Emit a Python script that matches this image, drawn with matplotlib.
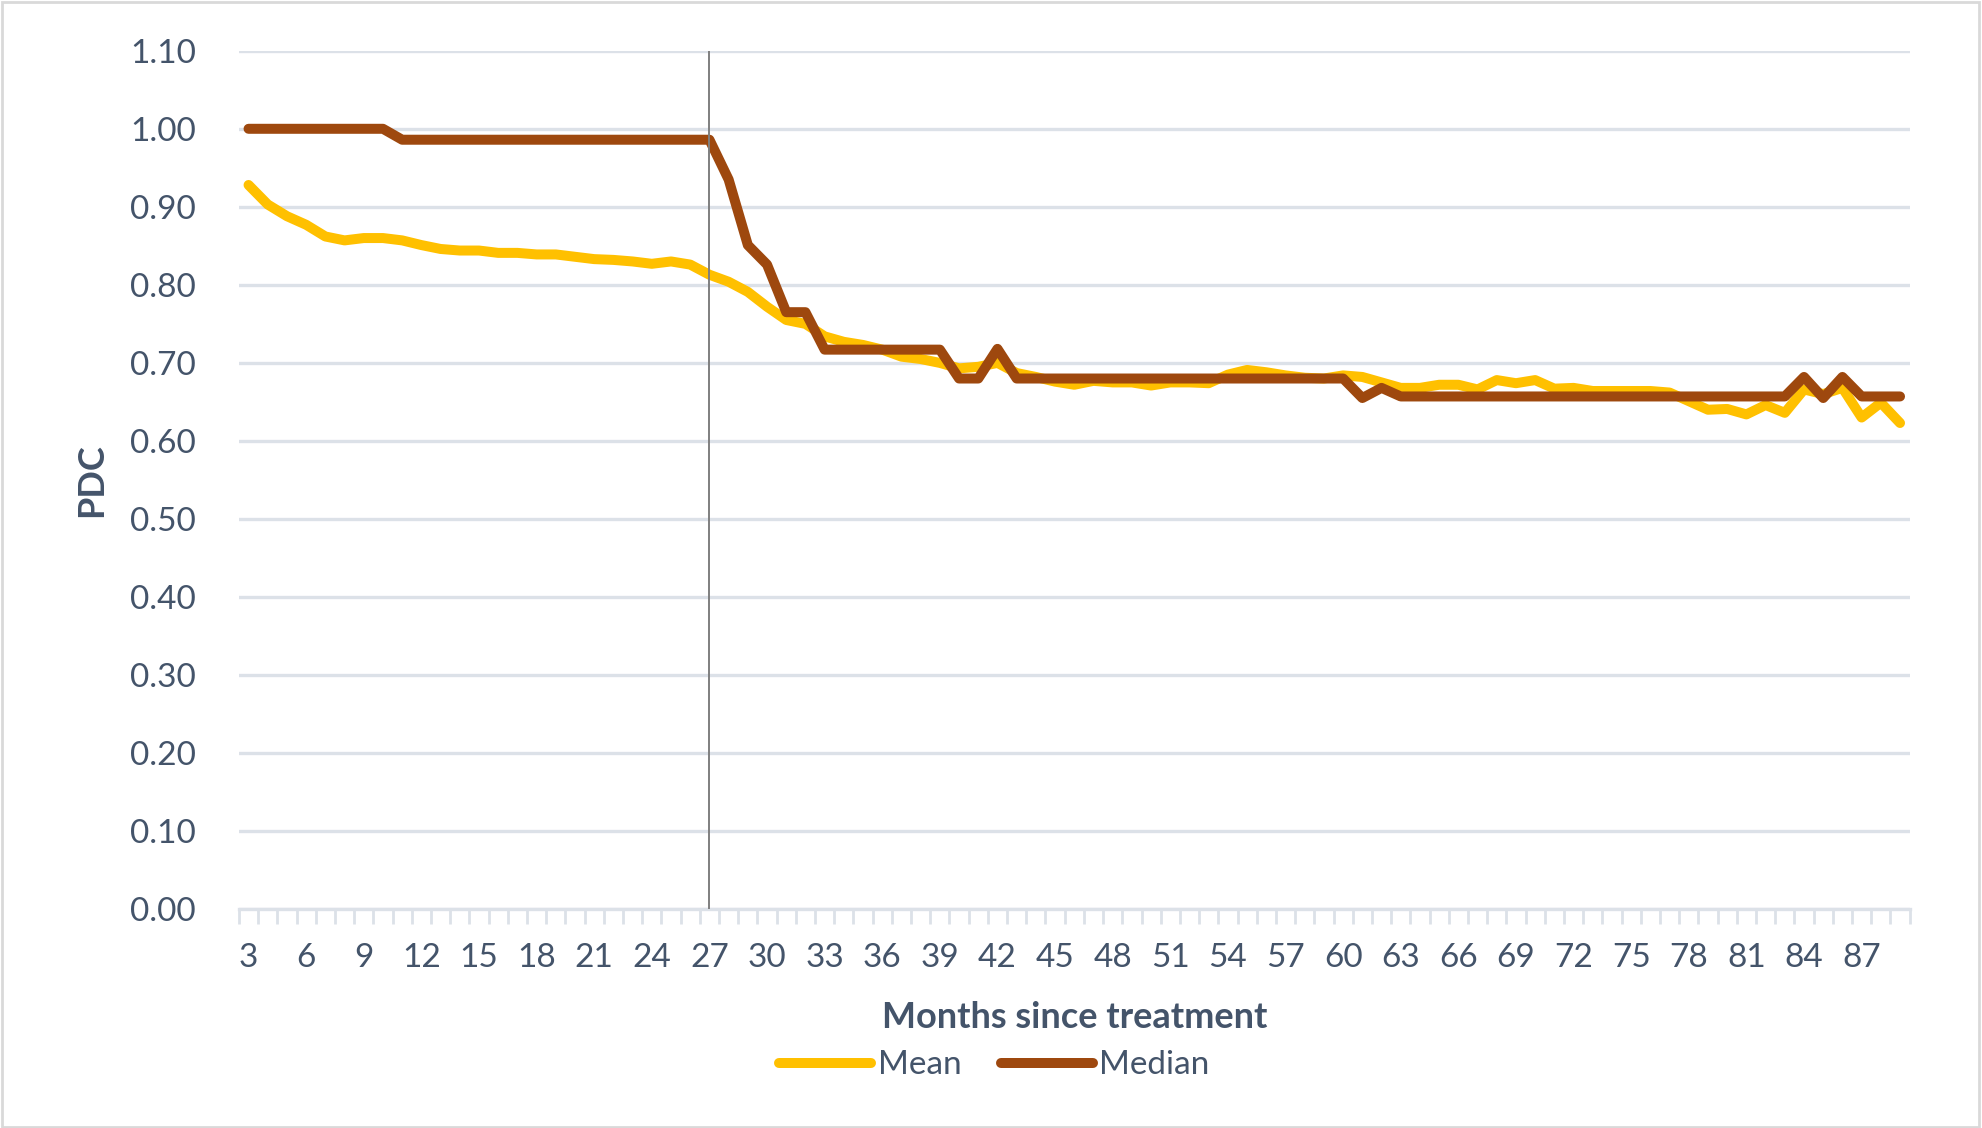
import numpy as np
import matplotlib.pyplot as plt
from matplotlib.patches import Rectangle

months = list(range(3, 90))

mean_pdc = [0.928, 0.903, 0.888, 0.877, 0.862, 0.857, 0.860, 0.860, 0.857, 0.851,
            0.846, 0.844, 0.844, 0.841, 0.841, 0.839, 0.839, 0.836, 0.833, 0.832,
            0.830, 0.827, 0.830, 0.826, 0.813, 0.804, 0.791, 0.772, 0.755, 0.750,
            0.734, 0.727, 0.723, 0.717, 0.708, 0.705, 0.700, 0.693, 0.695, 0.700,
            0.687, 0.682, 0.676, 0.672, 0.677, 0.675, 0.675, 0.671, 0.675, 0.675,
            0.674, 0.685, 0.691, 0.688, 0.684, 0.681, 0.680, 0.684, 0.682, 0.675,
            0.668, 0.668, 0.672, 0.672, 0.666, 0.678, 0.674, 0.678, 0.667, 0.668,
            0.664, 0.664, 0.664, 0.664, 0.662, 0.651, 0.640, 0.641, 0.634, 0.646,
            0.636, 0.666, 0.660, 0.668, 0.630, 0.649, 0.623]

median_pdc = [1.000, 1.000, 1.000, 1.000, 1.000, 1.000, 1.000, 1.000, 0.986, 0.986,
              0.986, 0.986, 0.986, 0.986, 0.986, 0.986, 0.986, 0.986, 0.986, 0.986,
              0.986, 0.986, 0.986, 0.986, 0.986, 0.935, 0.851, 0.826, 0.765, 0.765,
              0.717, 0.717, 0.717, 0.717, 0.717, 0.717, 0.717, 0.680, 0.680, 0.718,
              0.680, 0.680, 0.680, 0.680, 0.680, 0.680, 0.680, 0.680, 0.680, 0.680,
              0.680, 0.680, 0.680, 0.680, 0.680, 0.680, 0.680, 0.680, 0.655, 0.668,
              0.657, 0.657, 0.657, 0.657, 0.657, 0.657, 0.657, 0.657, 0.657, 0.657,
              0.657, 0.657, 0.657, 0.657, 0.657, 0.657, 0.657, 0.657, 0.657, 0.657,
              0.657, 0.682, 0.655, 0.682, 0.657, 0.657, 0.657]

tick_months = list(range(3, 90, 3))
y_ticks = [round(0.1 * i, 2) for i in range(12)]

text_col = '#44546A'
grid_col = '#DCE1E8'

plt.rcParams['font.family'] = ['Lato', 'DejaVu Sans']

fig = plt.figure(figsize=(19.83, 11.28), dpi=100)
ax = fig.add_axes([0.1205, 0.194, 0.8425, 0.761])

ax.plot(months, mean_pdc, color='#FFC000', linewidth=7.2, label='Mean',
        solid_joinstyle='round', solid_capstyle='round', zorder=3)
ax.plot(months, median_pdc, color='#9E480E', linewidth=7.2, label='Median',
        solid_joinstyle='round', solid_capstyle='round', zorder=4)
ax.axvline(27, color='#7F7F7F', linewidth=1.4, zorder=5)

ax.set_xlim(2.5, 89.5)
ax.set_ylim(0, 1.10)
ax.set_yticks(y_ticks)
ax.set_yticklabels(['%.2f' % v for v in y_ticks])
ax.set_xticks(tick_months)
ax.set_xticklabels([str(m) for m in tick_months])
ax.set_xticks(np.arange(2.5, 90, 1.0), minor=True)

ax.grid(axis='y', color=grid_col, linewidth=2.4, zorder=0)
ax.set_axisbelow(True)
for s in ['top', 'right', 'left']:
    ax.spines[s].set_visible(False)
ax.spines['bottom'].set_color(grid_col)
ax.spines['bottom'].set_linewidth(2.4)

ax.tick_params(axis='y', length=0, labelsize=24, labelcolor=text_col, pad=31)
ax.tick_params(axis='x', which='major', length=0, labelsize=24, labelcolor=text_col, pad=24)
ax.tick_params(axis='x', which='minor', length=11, width=2, color=grid_col)

ax.set_ylabel('PDC', fontsize=26, fontweight='bold', color=text_col, labelpad=15.5)
ax.set_xlabel('Months since treatment', fontsize=26, fontweight='bold', color=text_col, labelpad=20.5)

leg = fig.legend(loc='center', bbox_to_anchor=(0.5015, 0.0555), ncol=2, frameon=False,
                 fontsize=24, handlelength=2.75, handletextpad=0.2, columnspacing=1.2)
for t in leg.get_texts():
    t.set_color(text_col)

fig.patches.append(Rectangle((0.001, 0.001), 0.997, 0.997, transform=fig.transFigure,
                             fill=False, edgecolor='#D9D9D9', linewidth=2))

fig.savefig('out.png', dpi=100)
